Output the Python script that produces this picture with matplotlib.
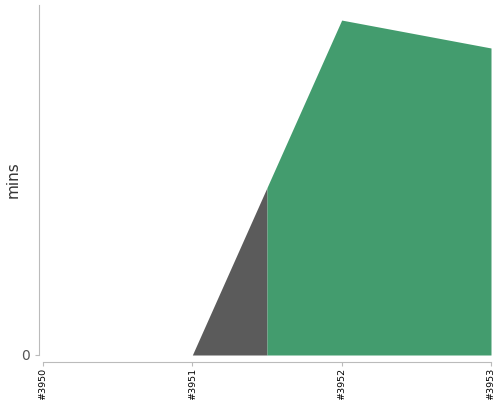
import numpy as np
import matplotlib.pyplot as plt

builds = ['#3950', '#3951', '#3952', '#3953']
durations = [0.0, 0.0, 12.0, 11.0]
colors = ['#5b5b5b', '#5b5b5b', '#439c6e', '#439c6e']

fig = plt.figure(figsize=(5, 4), dpi=100)
ax = fig.add_axes([0.086, 0.1125, 0.896, 0.875])

x = np.arange(len(builds))
# group consecutive builds with the same colour, each build owns +-0.5 around it
start = 0
for i in range(1, len(builds) + 1):
    if i == len(builds) or colors[i] != colors[start]:
        lo = max(start - 0.5, 0)
        hi = min(i - 0.5, len(builds) - 1)
        xs = np.concatenate([[lo], x[(x > lo) & (x < hi)], [hi]])
        ys = np.interp(xs, x, durations)
        ax.fill_between(xs, 0, ys, color=colors[start], linewidth=0)
        start = i

ax.set_xlim(0, len(builds) - 1)
ax.set_ylim(0, 12.54)
ax.set_xticks(x)
ax.set_xticklabels(builds)
ax.set_yticks([0])
ax.set_ylabel('mins', fontsize=11, color='#333333')
ax.yaxis.set_label_coords(-0.049, 0.5)

for s in ['top', 'right']:
    ax.spines[s].set_visible(False)
ax.spines['left'].set_position(('outward', 3))
ax.spines['bottom'].set_position(('outward', 5))
for s in ['left', 'bottom']:
    ax.spines[s].set_color('#bbbbbb')
ax.tick_params(axis='x', colors='#bbbbbb', labelcolor='black', length=3, pad=1,
               labelrotation=90, labelsize=6.8)
ax.tick_params(axis='y', colors='#bbbbbb', labelcolor='#555555', labelsize=10, length=3)

fig.savefig('out.png')
